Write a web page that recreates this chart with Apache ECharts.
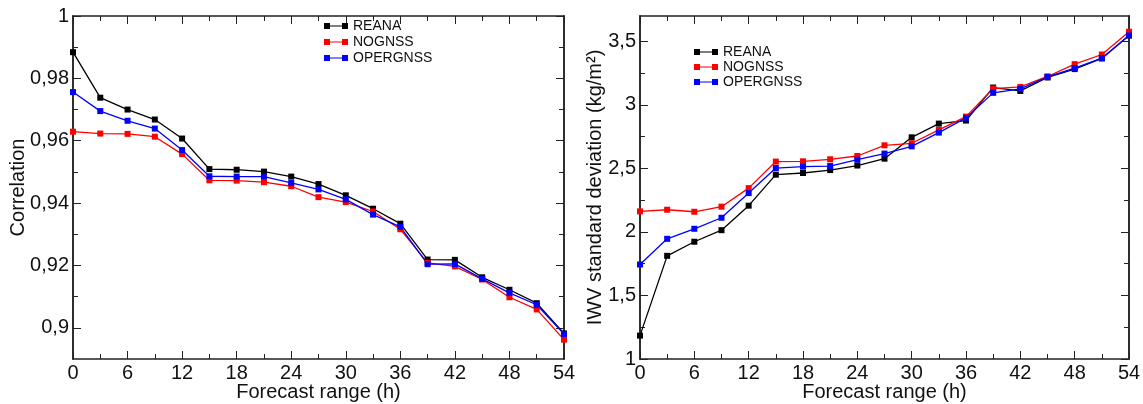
<!DOCTYPE html>
<html>
<head>
<meta charset="utf-8">
<script src="https://cdn.jsdelivr.net/npm/echarts@6/dist/echarts.min.js"></script>
<style>
html,body{margin:0;padding:0;background:#fff;}
#chart{width:1143px;height:404px;}
</style>
</head>
<body>
<div id="chart"></div>
<script>
// ---- data ----
const hours = [0,3,6,9,12,15,18,21,24,27,30,33,36,39,42,45,48,51,54];
const seriesNames = ['REANA','NOGNSS','OPERGNSS'];
const seriesColors = ['#000000','#ff0000','#0000ff'];

const corrREANA    = [0.9884,0.9738,0.9700,0.9668,0.9607,0.9509,0.9507,0.9501,0.9485,0.9461,0.9425,0.9382,0.9334,0.9219,0.9218,0.9162,0.9122,0.9079,0.8982];
const corrNOGNSS   = [0.9629,0.9623,0.9622,0.9613,0.9557,0.9473,0.9472,0.9467,0.9454,0.9419,0.9403,0.9373,0.9316,0.9208,0.9197,0.9155,0.9098,0.9059,0.8962];
const corrOPERGNSS = [0.9756,0.9695,0.9664,0.9639,0.9570,0.9486,0.9485,0.9485,0.9465,0.9444,0.9412,0.9363,0.9324,0.9204,0.9205,0.9157,0.9112,0.9074,0.8980];

const sdREANA    = [1.184,1.812,1.923,2.014,2.207,2.451,2.464,2.487,2.523,2.577,2.745,2.853,2.877,3.137,3.110,3.216,3.282,3.366,3.547];
const sdNOGNSS   = [2.162,2.175,2.159,2.199,2.345,2.554,2.556,2.572,2.598,2.682,2.698,2.803,2.908,3.129,3.142,3.224,3.321,3.397,3.576];
const sdOPERGNSS = [1.744,1.946,2.025,2.112,2.306,2.503,2.514,2.519,2.569,2.617,2.674,2.782,2.898,3.095,3.126,3.221,3.290,3.368,3.547];

const corrMajorTicks = [0.90,0.92,0.94,0.96,0.98,1.00];
const corrMinorTicks = [0.91,0.93,0.95,0.97,0.99];
const sdMajorTicks = [1,1.5,2,2.5,3,3.5];
const sdMinorTicks = [1.25,1.75,2.25,2.75,3.25];

const xLabel = 'Forecast range (h)';
const corrLabel = 'Correlation';
const sdLabel = 'IWV standard deviation (kg/m²)';

// ---- chart ----
const FONT = 'Liberation Sans, Arial, sans-serif';
const AX = '#222';
const fmt = v => String(Math.round(v*100)/100).replace('.', ',');

function xAxes(g){
  const base = {
    gridIndex:g, type:'value', min:0, max:54, interval:6,
    axisLine:{show:true, lineStyle:{color:AX, width:1.5}},
    axisTick:{show:true, inside:true, length:8, lineStyle:{color:AX, width:1}},
    minorTick:{show:true, splitNumber:2, length:5, lineStyle:{color:AX, width:1}},
    splitLine:{show:false}, minorSplitLine:{show:false}
  };
  return [
    Object.assign({}, base, {position:'bottom',
      axisLabel:{show:true, fontSize:20, fontFamily:FONT, color:'#111', margin:4},
      name:xLabel, nameLocation:'middle', nameGap:23, nameMoveOverlap:false,
      nameTextStyle:{fontSize:20, fontFamily:FONT, color:'#111'}}),
    Object.assign({}, base, {position:'top', axisLabel:{show:false}})
  ];
}
function yAxes(g, min, max, majors, minors, name, gap){
  const common = {gridIndex:g, type:'value', min:min, max:max,
    axisLine:{show:true, lineStyle:{color:AX, width:1.5}},
    splitLine:{show:false}};
  return [
    Object.assign({}, common, {position:'left',
      axisTick:{show:true, inside:true, length:8, customValues:majors, lineStyle:{color:AX, width:1}},
      axisLabel:{show:true, customValues:majors, formatter:fmt, fontSize:20, fontFamily:FONT, color:'#111', margin:4},
      name:name, nameLocation:'middle', nameGap:gap, nameMoveOverlap:false,
      nameTextStyle:{fontSize:20, fontFamily:FONT, color:'#111'}}),
    Object.assign({}, common, {position:'left',
      axisTick:{show:true, inside:true, length:5, customValues:minors, lineStyle:{color:AX, width:1}},
      axisLabel:{show:false}}),
    Object.assign({}, common, {position:'right',
      axisTick:{show:true, inside:true, length:8, customValues:majors, lineStyle:{color:AX, width:1}},
      axisLabel:{show:false}}),
    Object.assign({}, common, {position:'right',
      axisTick:{show:true, inside:true, length:5, customValues:minors, lineStyle:{color:AX, width:1}},
      axisLabel:{show:false}})
  ];
}

const pairs = arr => hours.map((h,i)=>[h, arr[i]]);
function mkSeries(name, color, data, xi, yi){
  return {type:'line', name:name, xAxisIndex:xi, yAxisIndex:yi, data:pairs(data),
    symbol:'rect', symbolSize:6, showSymbol:true,
    lineStyle:{color:color, width:1.3}, itemStyle:{color:color}, emphasis:{disabled:true}};
}

const legendIcon = 'path://M0,0H6V6H0Z M6,2.4H18V3.6H6Z M18,0H24V6H18Z';

const option = {
  animation:false,
  backgroundColor:'#fff',
  grid:[
    {left:73, top:16, width:491, height:343, outerBoundsMode:'none', containLabel:false},
    {left:640, top:16, width:489, height:343, outerBoundsMode:'none', containLabel:false}
  ],
  xAxis: xAxes(0).concat(xAxes(1)),
  yAxis: yAxes(0, 0.89, 1, corrMajorTicks, corrMinorTicks, corrLabel, 45)
        .concat(yAxes(1, 1, 3.7, sdMajorTicks, sdMinorTicks, sdLabel, 35)),
  legend:[
    {orient:'vertical', left:324, top:19, padding:0, icon:legendIcon, itemWidth:24, itemHeight:6, itemGap:2,
     data:seriesNames, selectedMode:false,
     textStyle:{fontSize:14, fontFamily:FONT, color:'#111', lineHeight:14}},
    {orient:'vertical', left:694, top:45, padding:0, icon:legendIcon, itemWidth:24, itemHeight:6, itemGap:1,
     data:seriesNames, selectedMode:false,
     textStyle:{fontSize:14, fontFamily:FONT, color:'#111', lineHeight:14}}
  ],
  series:[
    mkSeries(seriesNames[0], seriesColors[0], corrREANA, 0, 0),
    mkSeries(seriesNames[1], seriesColors[1], corrNOGNSS, 0, 0),
    mkSeries(seriesNames[2], seriesColors[2], corrOPERGNSS, 0, 0),
    mkSeries(seriesNames[0], seriesColors[0], sdREANA, 2, 4),
    mkSeries(seriesNames[1], seriesColors[1], sdNOGNSS, 2, 4),
    mkSeries(seriesNames[2], seriesColors[2], sdOPERGNSS, 2, 4)
  ]
};

const chart = echarts.init(document.getElementById('chart'), null, {renderer:'canvas'});
chart.setOption(option);
</script>
</body>
</html>
